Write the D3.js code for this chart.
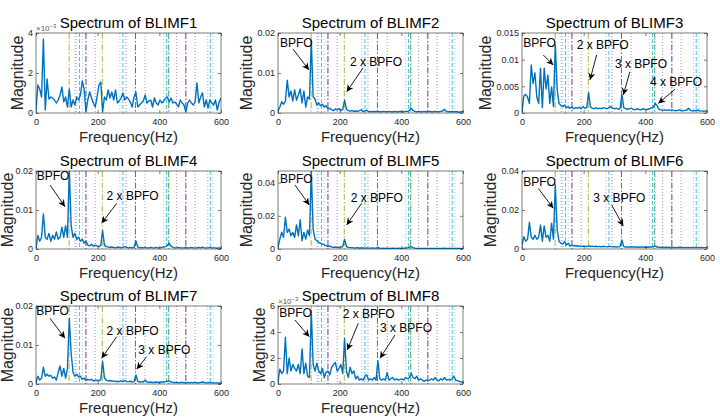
<!DOCTYPE html>
<html>
<head>
<meta charset="utf-8">
<script src="https://cdn.jsdelivr.net/npm/d3@7"></script>
<style>
  body { margin: 0; background: #fff; }
  svg { display: block; font-family: "Liberation Sans", Arial, sans-serif; }
</style>
</head>
<body>
<svg id="chart" width="720" height="419"></svg>
<script>
// spectra sampled every 6 Hz from 0 to 600 Hz
const freqs = d3.range(0, 601, 6);

const titles = ["Spectrum of BLIMF1", "Spectrum of BLIMF2", "Spectrum of BLIMF3", "Spectrum of BLIMF4",
                "Spectrum of BLIMF5", "Spectrum of BLIMF6", "Spectrum of BLIMF7", "Spectrum of BLIMF8"];
const xTicks = [0, 200, 400, 600];
const yMaxes = [4, 0.02, 0.015, 0.02, 0.047, 0.04, 0.02, 6];
const yTicks = [[0, 2, 4], [0, 0.01, 0.02], [0, 0.005, 0.01, 0.015], [0, 0.01, 0.02],
                [0, 0.02, 0.04], [0, 0.02, 0.04], [0, 0.01, 0.02], [0, 2, 4, 6]];
const yExponent = ["-3", null, null, null, null, null, null, "-3"];

// BLIMF1 and BLIMF8 are in units of 1e-3
const blimf1 = [0.15, 1.4, 1.2, 0.8, 3.7, 0.15, 1.7, 0.7, 0.8, 0.75,
  0.65, 0.5, 0.65, 0.9, 1.3, 0.55, 0.8, 0.3, 1.2, 0.3,
  0.65, 0.4, 0.8, 0.65, 0.9, 1.6, 1.2, 0.05, 0.65, 1.05,
  0.75, 0.5, 0.3, 0.8, 1.4, 1.55, 0.05, 0.8, 0.65, 1.15,
  0.75, 1.05, 0.65, 1.15, 0.5, 0.6, 0.75, 1.0, 0.65, 0.8,
  0.7, 0.55, 0.3, 0.8, 1.05, 0.3, 0.4, 0.5, 0.6, 0.9,
  0.5, 0.6, 0.65, 0.3, 0.75, 0.5, 0.4, 0.65, 0.5, 0.6,
  0.75, 0.8, 0.55, 0.75, 0.5, 0.55, 0.45, 0.3, 0.65, 0.5,
  0.4, 0.05, 0.5, 0.65, 0.5, 0.4, 0.55, 1.5, 0.5, 0.8,
  1.0, 0.3, 0.65, 0.25, 0.65, 0.5, 0.4, 0.65, 0.15, 0.55,
  0.75];
const blimf2 = [0.0005, 0.0015, 0.0028, 0.0022, 0.003, 0.0082, 0.004, 0.0055, 0.003, 0.0058,
  0.0032, 0.0045, 0.006, 0.0025, 0.0055, 0.0015, 0.004, 0.0035, 0.0182, 0.004,
  0.0035, 0.002, 0.0025, 0.0018, 0.0022, 0.0015, 0.0018, 0.001, 0.0012, 0.0008,
  0.0006, 0.001, 0.0008, 0.0011, 0.0006, 0.0009, 0.0032, 0.0009, 0.0006, 0.0005,
  0.0006, 0.0004, 0.0005, 0.0004, 0.0006, 0.0008, 0.0004, 0.0005, 0.0007, 0.0003,
  0.0004, 0.0003, 0.0004, 0.0003, 0.0004, 0.0003, 0.0003, 0.0004, 0.0003, 0.0003,
  0.0004, 0.0003, 0.0003, 0.0004, 0.0003, 0.0003, 0.0004, 0.0003, 0.0003, 0.0004,
  0.0004, 0.0006, 0.0012, 0.0006, 0.0004, 0.0003, 0.0004, 0.0003, 0.0003, 0.0004,
  0.0003, 0.0003, 0.0004, 0.0003, 0.0003, 0.0004, 0.0003, 0.0003, 0.0004, 0.0005,
  0.0009, 0.0004, 0.0003, 0.0003, 0.0004, 0.0003, 0.0003, 0.0003, 0.0002, 0.0003,
  0.0003];
const blimf3 = [0.0003, 0.0032, 0.0035, 0.003, 0.0018, 0.009, 0.0055, 0.0075, 0.003, 0.0018,
  0.0084, 0.001, 0.0084, 0.0045, 0.0071, 0.0018, 0.0049, 0.0012, 0.0128, 0.0045,
  0.0018, 0.0014, 0.0012, 0.0015, 0.001, 0.0012, 0.0009, 0.0011, 0.0008, 0.001,
  0.0009, 0.0011, 0.0008, 0.0012, 0.0009, 0.001, 0.0038, 0.0011, 0.0009, 0.0008,
  0.001, 0.0008, 0.0009, 0.0008, 0.001, 0.0009, 0.0008, 0.001, 0.0012, 0.0009,
  0.0008, 0.0009, 0.0007, 0.0008, 0.0035, 0.001, 0.0008, 0.0007, 0.0008, 0.0009,
  0.0007, 0.0006, 0.0008, 0.0007, 0.0006, 0.0007, 0.0008, 0.0006, 0.0007, 0.0008,
  0.001, 0.0011, 0.0018, 0.0014, 0.0007, 0.0006, 0.0005, 0.0006, 0.0005, 0.0006,
  0.0005, 0.0006, 0.0005, 0.0004, 0.0005, 0.0006, 0.0005, 0.0004, 0.0005, 0.0005,
  0.0009, 0.0005, 0.0004, 0.0005, 0.0004, 0.0006, 0.0004, 0.0004, 0.0003, 0.0004,
  0.0003];
const blimf4 = [0.0002, 0.0035, 0.002, 0.003, 0.009, 0.003, 0.0025, 0.004, 0.002, 0.0035,
  0.0025, 0.0044, 0.0025, 0.003, 0.0056, 0.003, 0.006, 0.003, 0.0205, 0.006,
  0.003, 0.004, 0.0025, 0.003, 0.002, 0.0025, 0.0015, 0.002, 0.001, 0.0008,
  0.0012, 0.0007, 0.001, 0.0008, 0.0006, 0.0009, 0.0047, 0.001, 0.0006, 0.0005,
  0.0004, 0.0005, 0.0004, 0.0003, 0.0005, 0.0004, 0.0003, 0.0004, 0.0006, 0.0004,
  0.0003, 0.0004, 0.0003, 0.0004, 0.0021, 0.0005, 0.0003, 0.0004, 0.0003, 0.0004,
  0.0003, 0.0003, 0.0004, 0.0003, 0.0003, 0.0004, 0.0003, 0.0003, 0.0004, 0.0005,
  0.0006, 0.0009, 0.0015, 0.0007, 0.0004, 0.0003, 0.0003, 0.0004, 0.0003, 0.0003,
  0.0003, 0.0004, 0.0003, 0.0003, 0.0004, 0.0003, 0.0003, 0.0003, 0.0004, 0.0003,
  0.0005, 0.0003, 0.0003, 0.0003, 0.0004, 0.0003, 0.0003, 0.0003, 0.0002, 0.0003,
  0.0002];
const blimf5 = [0.001, 0.006, 0.0101, 0.007, 0.0192, 0.01, 0.012, 0.008, 0.01, 0.007,
  0.0145, 0.008, 0.0176, 0.005, 0.01, 0.006, 0.0115, 0.008, 0.047, 0.012,
  0.006, 0.005, 0.004, 0.0035, 0.003, 0.0025, 0.002, 0.0015, 0.0018, 0.0012,
  0.001, 0.0012, 0.0009, 0.001, 0.0011, 0.0015, 0.0058, 0.0015, 0.001, 0.0008,
  0.0008, 0.0007, 0.0006, 0.0008, 0.0006, 0.0007, 0.0006, 0.0005, 0.0006, 0.0005,
  0.0005, 0.0006, 0.0005, 0.0005, 0.0009, 0.0005, 0.0004, 0.0005, 0.0004, 0.0005,
  0.0004, 0.0004, 0.0005, 0.0004, 0.0004, 0.0005, 0.0004, 0.0004, 0.0005, 0.0006,
  0.0007, 0.001, 0.0015, 0.0008, 0.0005, 0.0004, 0.0004, 0.0004, 0.0003, 0.0004,
  0.0004, 0.0003, 0.0004, 0.0003, 0.0004, 0.0003, 0.0004, 0.0003, 0.0003, 0.0004,
  0.0005, 0.0003, 0.0003, 0.0003, 0.0003, 0.0004, 0.0003, 0.0003, 0.0003, 0.0003,
  0.0002];
const blimf6 = [0.002, 0.0063, 0.004, 0.005, 0.0137, 0.006, 0.005, 0.007, 0.005, 0.006,
  0.0123, 0.004, 0.0118, 0.006, 0.007, 0.004, 0.0132, 0.005, 0.0328, 0.01,
  0.004, 0.003, 0.0025, 0.0038, 0.002, 0.003, 0.0015, 0.002, 0.0015, 0.0018,
  0.0014, 0.0016, 0.0013, 0.0015, 0.0014, 0.0012, 0.0016, 0.0013, 0.0015, 0.0012,
  0.0014, 0.0012, 0.0013, 0.0011, 0.0014, 0.0012, 0.0011, 0.0013, 0.0012, 0.0011,
  0.0012, 0.001, 0.0011, 0.0012, 0.0046, 0.0012, 0.001, 0.0011, 0.001, 0.0011,
  0.001, 0.0011, 0.001, 0.0009, 0.001, 0.0011, 0.0009, 0.001, 0.0009, 0.001,
  0.001, 0.0011, 0.0016, 0.001, 0.0009, 0.0008, 0.0009, 0.0008, 0.0009, 0.0008,
  0.0008, 0.0009, 0.0008, 0.0007, 0.0008, 0.0009, 0.0008, 0.0007, 0.0008, 0.0007,
  0.0008, 0.0007, 0.0008, 0.0007, 0.0008, 0.0007, 0.0007, 0.0008, 0.0007, 0.0007,
  0.0007];
const blimf7 = [0.0005, 0.002, 0.001, 0.0015, 0.0043, 0.002, 0.0025, 0.002, 0.0022, 0.0015,
  0.0018, 0.001, 0.003, 0.0046, 0.002, 0.004, 0.0015, 0.004, 0.0168, 0.008,
  0.003, 0.002, 0.0025, 0.0018, 0.002, 0.0012, 0.0015, 0.0009, 0.0012, 0.001,
  0.0012, 0.0008, 0.001, 0.0009, 0.0009, 0.0011, 0.0058, 0.0015, 0.001, 0.0008,
  0.0009, 0.0007, 0.0008, 0.0006, 0.0007, 0.0006, 0.0008, 0.0006, 0.0009, 0.0006,
  0.0006, 0.0007, 0.0005, 0.0006, 0.0023, 0.0007, 0.0005, 0.0006, 0.0005, 0.001,
  0.0005, 0.0004, 0.0005, 0.0004, 0.0004, 0.0005, 0.0004, 0.0004, 0.0005, 0.0005,
  0.0006, 0.0007, 0.0008, 0.0005, 0.0004, 0.0004, 0.0004, 0.0003, 0.0004, 0.0004,
  0.0004, 0.0003, 0.0004, 0.0003, 0.0004, 0.0003, 0.0004, 0.0003, 0.0003, 0.0004,
  0.0005, 0.0004, 0.0003, 0.0003, 0.0004, 0.0003, 0.0003, 0.0003, 0.0003, 0.0002,
  0.0002];
const blimf8 = [0.2, 1.14, 0.8, 1.0, 3.6, 0.8, 2.0, 1.0, 1.5, 1.2,
  1.0, 1.5, 0.8, 2.7, 0.8, 1.6, 0.6, 0.5, 5.6, 1.5,
  1.0, 1.6, 1.0, 0.8, 1.2, 0.5, 0.9, 1.0, 0.7, 1.3,
  1.5, 1.66, 1.0, 1.2, 1.5, 0.8, 3.5, 1.0, 0.5, 1.3,
  0.8, 1.0, 0.4, 0.6, 0.3, 0.4, 0.3, 0.6, 0.7, 0.3,
  0.4, 0.3, 0.5, 0.3, 1.8, 0.4, 0.3, 0.4, 0.3, 0.88,
  0.3, 0.4, 0.5, 0.3, 0.4, 0.3, 0.35, 0.4, 0.3, 0.5,
  0.4, 0.5, 0.83, 0.5, 0.4, 0.6, 0.3, 0.4, 0.3, 0.2,
  0.3, 0.25, 0.3, 0.4, 0.3, 0.5, 0.3, 0.25, 0.4, 0.3,
  0.5, 0.3, 0.35, 0.3, 0.4, 0.6, 0.3, 0.25, 0.2, 0.15,
  0.15];

// characteristic frequency markers (Hz) and their kind
const markerFreqs = [107.5, 215, 322.5, 430, 162, 486,
                     127, 192, 292, 354, 456, 516,
                     141, 282, 423, 565,
                     132, 150, 272, 291, 414, 432, 556, 574];
const markerKinds = ["bpfo", "bpfo", "bpfo3", "bpfo4", "fi", "fi",
                     "fiSide", "fiSide", "fiSide", "fiSide", "fiSide", "fiSide",
                     "fb", "fb", "fb", "fb",
                     "fbSide", "fbSide", "fbSide", "fbSide", "fbSide", "fbSide", "fbSide", "fbSide"];

// annotations: text anchor and arrow (from -> to), in data units of each panel
const annotations = [
  [],
  [{ label: "BPFO", tx: 6.5, ty: 0.0166, from: [48.6, 0.016], to: [100.5, 0.01075] },
   { label: "2 x BPFO", tx: 233.5, ty: 0.0118, from: [275.7, 0.01125], to: [222.8, 0.0053] }],
  [{ label: "BPFO", tx: 4.2, ty: 0.01243, from: [69, 0.01088], to: [101.5, 0.009] },
   { label: "2 x BPFO", tx: 177.4, ty: 0.01194, from: [242, 0.01088], to: [220.5, 0.0062] },
   { label: "3 x BPFO", tx: 301.6, ty: 0.00838, from: [350, 0.00774], to: [328.5, 0.0034] },
   { label: "4 x BPFO", tx: 415, ty: 0.00506, from: [496, 0.00444], to: [442, 0.0018] }],
  [{ label: "BPFO", tx: 2.3, ty: 0.0177, from: [45.4, 0.0164], to: [94, 0.01085] },
   { label: "2 x BPFO", tx: 229, ty: 0.01256, from: [261.7, 0.01172], to: [213, 0.0066] }],
  [{ label: "BPFO", tx: 6.5, ty: 0.04, from: [55, 0.0386], to: [101.5, 0.0265] },
   { label: "2 x BPFO", tx: 235.8, ty: 0.0285, from: [271.5, 0.02756], to: [222.8, 0.0145] }],
  [{ label: "BPFO", tx: 4.2, ty: 0.0323, from: [52.9, 0.0311], to: [101.5, 0.0209] },
   { label: "3 x BPFO", tx: 231.2, ty: 0.0243, from: [290.9, 0.02257], to: [328.5, 0.0118] }],
  [{ label: "BPFO", tx: 0.5, ty: 0.0177, from: [45.4, 0.01685], to: [94, 0.01172] },
   { label: "2 x BPFO", tx: 229, ty: 0.01256, from: [261.7, 0.01213], to: [213, 0.0066] },
   { label: "3 x BPFO", tx: 331.8, ty: 0.00769, from: [359, 0.007], to: [326.6, 0.0038] }],
  [{ label: "BPFO", tx: 4.2, ty: 5.18, from: [55, 4.92], to: [101.5, 3.64] },
   { label: "2 x BPFO", tx: 209.8, ty: 5.05, from: [260.4, 4.67], to: [224.7, 2.62] },
   { label: "3 x BPFO", tx: 330.8, ty: 4.02, from: [379.5, 3.77], to: [330.8, 1.98] }]
];

const spectra = [blimf1, blimf2, blimf3, blimf4, blimf5, blimf6, blimf7, blimf8];

// layout
const colLeft = [36, 278, 522];
const rowTop = [33, 171, 306];
const rowH = [80, 78, 78];
const plotW = 185;
const ink = "#262626";

const markerStyle = {
  bpfo:   { color: "#b0b43a", dash: "6,2,1.5,2" },
  bpfo3:  { color: "#707032", dash: "6,2,1.5,2" },
  bpfo4:  { color: "#4fb35e", dash: "6,2,1.5,2" },
  fi:     { color: "#7e2f8e", dash: "6,2,1.5,2" },
  fiSide: { color: "#b58cc4", dash: "1,2" },
  fb:     { color: "#4dbeee", dash: "4,2" },
  fbSide: { color: "#8ed0ee", dash: "1,2" }
};

const svg = d3.select("#chart");

svg.append("defs").append("marker")
  .attr("id", "arrowhead")
  .attr("viewBox", "0 0 10 10")
  .attr("refX", 10).attr("refY", 5)
  .attr("markerWidth", 7).attr("markerHeight", 7)
  .attr("markerUnits", "userSpaceOnUse")
  .attr("orient", "auto")
  .append("path")
  .attr("d", "M0,0 L10,5 L0,10 L3,5 Z")
  .attr("fill", "#000");

const markers = markerFreqs.map((f, i) => ({ f, kind: markerKinds[i] }));

spectra.forEach((vals, k) => {
  const col = k % 3, row = Math.floor(k / 3);
  const left = colLeft[col], top = rowTop[row], h = rowH[row];

  const x = d3.scaleLinear().domain([0, 600]).range([0, plotW]);
  const y = d3.scaleLinear().domain([0, yMaxes[k]]).range([h, 0]);

  const g = svg.append("g").attr("transform", `translate(${left},${top})`);

  g.append("clipPath").attr("id", "clip" + k)
    .append("rect").attr("width", plotW).attr("height", h);

  const plot = g.append("g").attr("clip-path", `url(#clip${k})`);

  // vertical frequency markers
  plot.selectAll("line.marker")
    .data(markers)
    .join("line")
    .attr("class", "marker")
    .attr("x1", d => x(d.f)).attr("x2", d => x(d.f))
    .attr("y1", 0).attr("y2", h)
    .attr("stroke", d => markerStyle[d.kind].color)
    .attr("stroke-dasharray", d => markerStyle[d.kind].dash)
    .attr("stroke-width", 1);

  // spectrum line
  plot.append("path")
    .datum(vals)
    .attr("d", d3.line().x((d, i) => x(freqs[i])).y(d => y(d)))
    .attr("fill", "none")
    .attr("stroke", "#0072bd")
    .attr("stroke-width", 1.4)
    .attr("stroke-linejoin", "round");

  // axes (ticks inward, mirrored on top/right)
  g.append("g")
    .attr("transform", `translate(0,${h})`)
    .call(d3.axisBottom(x).tickValues(xTicks).tickSizeInner(-3).tickSizeOuter(0).tickPadding(6));
  const yAxis = g.append("g")
    .call(d3.axisLeft(y).tickValues(yTicks[k]).tickSizeInner(-3).tickSizeOuter(0).tickPadding(3)
      .tickFormat(d => d3.format("~g")(d)));
  g.append("g").call(d3.axisTop(x).tickValues(xTicks).tickSizeInner(-3).tickSizeOuter(0).tickFormat(""));
  g.append("g").attr("transform", `translate(${plotW},0)`)
    .call(d3.axisRight(y).tickValues(yTicks[k]).tickSizeInner(-3).tickSizeOuter(0).tickFormat(""));

  g.selectAll(".domain").remove();
  g.selectAll(".tick line").attr("stroke", ink).attr("stroke-width", 0.6);
  g.selectAll(".tick text")
    .attr("fill", ink)
    .attr("font-size", 9)
    .attr("font-family", '"Liberation Sans", Arial, sans-serif');

  g.append("rect")
    .attr("width", plotW).attr("height", h)
    .attr("fill", "none")
    .attr("stroke", ink)
    .attr("stroke-width", 0.6);

  // exponent label
  if (yExponent[k]) {
    const ex = g.append("text")
      .attr("x", 0).attr("y", -2)
      .attr("font-size", 8)
      .attr("fill", "#555");
    ex.append("tspan").text("\u00d710");
    ex.append("tspan").attr("dy", -3).attr("font-size", 6).text(yExponent[k].replace("-", "\u2212"));
  }

  // title
  g.append("text")
    .attr("x", plotW / 2).attr("y", -5)
    .attr("text-anchor", "middle")
    .attr("font-size", 15)
    .attr("fill", "#000")
    .text(titles[k]);

  // x label
  g.append("text")
    .attr("x", plotW / 2).attr("y", h + 29)
    .attr("text-anchor", "middle")
    .attr("font-size", 15)
    .attr("fill", ink)
    .text("Frequency(Hz)");

  // y label, placed left of tick labels but kept inside the page
  const bb = yAxis.node().getBBox();
  const labelX = Math.max(bb.x - 5, 13 - left);
  g.append("text")
    .attr("transform", `translate(${labelX},${h / 2}) rotate(-90)`)
    .attr("text-anchor", "middle")
    .attr("font-size", 16)
    .attr("fill", ink)
    .text("Magnitude");

  // annotations
  annotations[k].forEach(a => {
    g.append("line")
      .attr("x1", x(a.from[0])).attr("y1", y(a.from[1]))
      .attr("x2", x(a.to[0])).attr("y2", y(a.to[1]))
      .attr("stroke", "#000")
      .attr("stroke-width", 0.9)
      .attr("marker-end", "url(#arrowhead)");
    g.append("text")
      .attr("x", x(a.tx)).attr("y", y(a.ty))
      .attr("font-size", 12)
      .attr("fill", "#000")
      .text(a.label);
  });
});
</script>
</body>
</html>
